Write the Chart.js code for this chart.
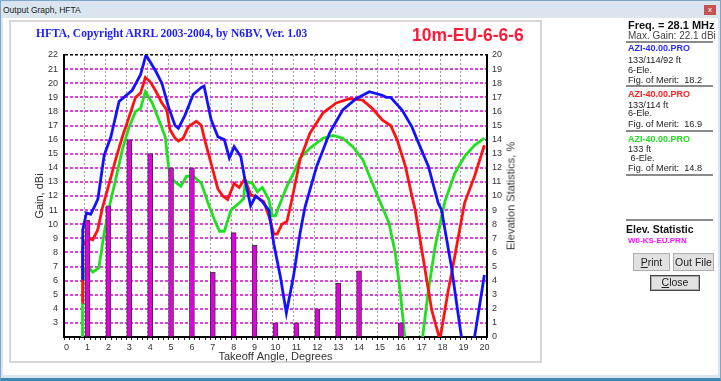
<!DOCTYPE html>
<html>
<head>
<meta charset="utf-8">
<script src="https://cdn.jsdelivr.net/npm/chart.js@4.4.1/dist/chart.umd.min.js"></script>
<style>
  body { margin: 0; width: 721px; height: 381px; overflow: hidden; position: relative; background: #fff;
         font-family: "Liberation Sans", Arial, sans-serif; }
  .abs { position: absolute; white-space: nowrap; line-height: 1; }
  #frame { position: absolute; left: 0; top: 0; width: 719px; height: 377px; background: #dae5ef;
           border: 1px solid #7fa6c6; border-bottom: 3px solid #3d8ab0; }
  #client { position: absolute; left: 3px; top: 18px; width: 715px; height: 357px; background: #fff; }
  #panel { position: absolute; left: 9px; top: 20px; width: 529px; height: 339px; border: 2px solid #d6d6d6; background: #fff; }
  #myChart { position: absolute; left: 0; top: 0; }
  .sep { position: absolute; left: 626px; width: 87px; height: 0; border-top: 2px solid #8a8a8a; }
  .btn { position: absolute; background: #e1e1e1; border: 1px solid #adadad; font-size: 10.5px; color: #222;
         text-align: center; box-sizing: border-box; }
  .info { font-size: 9.2px; color: #222; left: 628px; }
  .azi { font-size: 9px; font-weight: bold; left: 628px; }
</style>
</head>
<body>
<div id="frame"></div>
<div class="abs" style="left:3px;top:6px;font-size:8.5px;color:#222">Output Graph, HFTA</div>
<div class="abs" style="left:704px;top:5px;width:12px;height:10px;background:#c75050;color:#fff;font-size:8px;text-align:center;line-height:10px">x</div>
<div id="client"></div>
<div id="panel"></div>

<canvas id="myChart" width="721" height="381"></canvas>

<div class="abs" style="left:36px;top:28px;font-family:'Liberation Serif',serif;font-weight:bold;font-size:11.5px;color:#1c1cff">HFTA, Copyright ARRL 2003-2004, by N6BV, Ver. 1.03</div>
<div class="abs" style="left:412px;top:27px;font-weight:bold;font-size:17.5px;color:#ff1a3a">10m-EU-6-6-6</div>
<div class="abs" style="left:511px;top:196px;font-size:11px;color:#333;transform:translate(-50%,-50%) rotate(-90deg)">Elevation Statistics, %</div>

<div class="abs" style="left:628px;top:19.5px;font-size:11px;font-weight:bold;color:#111">Freq. = 28.1 MHz</div>
<div class="abs" style="left:628px;top:31px;font-size:10px;color:#444">Max. Gain: 22.1 dBi</div>
<div class="sep" style="top:41px"></div>
<div class="abs azi" style="top:44px;color:#2a2aff">AZI-40.00.PRO</div>
<div class="abs info" style="top:55.5px">133/114/92 ft</div>
<div class="abs info" style="top:66px">6-Ele.</div>
<div class="abs info" style="top:75.5px">Fig. of Merit:&nbsp; 18.2</div>
<div class="sep" style="top:85px"></div>
<div class="abs azi" style="top:89.5px;color:#ff2020">AZI-40.00.PRO</div>
<div class="abs info" style="top:100.5px">133/114 ft</div>
<div class="abs info" style="top:108.5px">6-Ele.</div>
<div class="abs info" style="top:119.5px">Fig. of Merit:&nbsp; 16.9</div>
<div class="sep" style="top:130px"></div>
<div class="abs azi" style="top:134.5px;color:#22dd22">AZI-40.00.PRO</div>
<div class="abs info" style="top:144.5px">133 ft</div>
<div class="abs info" style="top:153.5px">&nbsp;6-Ele.</div>
<div class="abs info" style="top:163.5px">Fig. of Merit:&nbsp; 14.8</div>
<div class="sep" style="top:174px"></div>
<div class="sep" style="top:219px"></div>
<div class="abs" style="left:626px;top:224px;font-size:10.5px;font-weight:bold;color:#111">Elev. Statistic</div>
<div class="abs" style="left:628px;top:237px;font-size:8px;font-weight:bold;color:#ff10ff">W0-KS-EU.PRN</div>
<div class="btn" style="left:633px;top:253px;width:37px;height:18px;line-height:16px"><u>P</u>rint</div>
<div class="btn" style="left:673px;top:253px;width:41px;height:18px;line-height:16px">Out File</div>
<div class="btn" style="left:650px;top:275px;width:50px;height:16px;line-height:13px;border:1px solid #444;box-shadow:inset 0 0 0 1px #aaa"><u>C</u>lose</div>

<script>
// takeoff angles (deg) and gain (dBi)
const blueAngles = [0.75, 0.77, 0.95, 1.15, 1.35, 1.5, 1.8, 2.12, 2.51, 3.14, 3.54, 3.8, 4.25, 4.56, 4.88, 5.19, 5.35, 5.66, 6.06, 6.45, 6.58, 6.92, 7.24, 7.55, 7.79, 8.02, 8.34, 8.53, 8.81, 9.05, 9.37, 9.68, 9.92, 10.23, 10.52, 10.86, 11.18, 11.41, 11.97, 12.6, 13.22, 13.86, 14.49, 15.11, 15.3, 15.51, 16.06, 16.53, 16.85, 17.32, 17.79, 17.95, 18.42, 18.9, 19.2, 19.53, 20];
const blueGain = [6.1, 9.6, 10.8, 10.7, 11.3, 11.8, 14.9, 16.2, 18.7, 19.5, 20.6, 22.0, 20.9, 20.0, 18.3, 17.0, 16.8, 17.7, 19.2, 19.7, 19.8, 17.4, 16.2, 16.0, 14.7, 15.5, 14.8, 13.2, 11.3, 12.0, 11.6, 11.0, 8.6, 6.3, 3.7, 6.3, 9.4, 11.2, 14.1, 16.5, 18.1, 18.9, 19.4, 19.15, 19.0, 19.0, 18.1, 16.9, 15.75, 14.1, 11.5, 11.0, 7.0, 2.0, null, 2.0, 6.4];

const redAngles = [0.75, 0.77, 1.02, 1.25, 1.49, 1.72, 2.04, 2.35, 2.67, 2.99, 3.3, 3.54, 3.77, 4.0, 4.25, 4.56, 4.8, 4.95, 5.19, 5.35, 5.58, 5.82, 6.21, 6.45, 6.61, 6.92, 7.24, 7.48, 7.71, 8.02, 8.26, 8.53, 8.81, 9.13, 9.44, 9.7, 9.92, 10.08, 10.31, 10.55, 10.78, 11.18, 11.65, 12.28, 12.91, 13.54, 14.17, 14.64, 15.11, 15.51, 15.82, 16.22, 16.53, 16.69, 17.0, 17.48, 17.87, 18.27, 18.58, 19.05, 19.53, 20];
const redGain = [4.45, 8.45, 9.0, 8.9, 9.6, 11.2, 12.9, 14.6, 16.2, 17.6, 19.0, 19.3, 20.4, 20.1, 19.5, 18.6, 18.1, 16.7, 16.1, 15.9, 16.1, 16.9, 17.3, 17.0, 16.0, 14.3, 12.5, 12.0, 11.75, 12.9, 12.6, 13.2, 12.1, 11.9, 11.6, 10.5, 9.3, 9.3, 10.0, 10.2, 11.7, 14.6, 16.45, 17.9, 18.6, 18.9, 18.8, 18.2, 17.4, 17.0, 16.0, 14.1, 12.0, 11.0, 8.2, 3.9, 1.8, 5.3, 7.7, 11.5, 13.4, 15.6];

const greenAngles = [0.75, 0.76, 0.8, 1.02, 1.25, 1.54, 1.8, 2.07, 2.35, 2.67, 2.99, 3.3, 3.54, 3.77, 4.1, 4.41, 4.72, 4.88, 4.95, 5.19, 5.47, 5.74, 6.06, 6.45, 6.77, 7.08, 7.32, 7.55, 7.87, 8.26, 8.47, 8.53, 8.66, 8.89, 9.13, 9.37, 9.68, 9.84, 10.0, 10.23, 10.55, 10.86, 11.18, 11.65, 12.28, 12.75, 13.22, 13.7, 14.17, 14.64, 15.03, 15.43, 15.74, 15.98, 16.19, 16.6, 17.04, 17.32, 17.64, 18.11, 18.58, 19.05, 19.53, 20];
const greenGain = [2.0, 4.5, 6.7, 7.0, 6.6, 6.9, 9.4, 11.4, 13.2, 15.3, 16.9, 18.0, 18.2, 19.4, 18.6, 17.4, 16.2, 14.1, 13.4, 13.0, 12.7, 13.4, 13.4, 12.9, 11.5, 10.3, 9.5, 9.5, 11.0, 11.5, 11.8, 12.7, 13.0, 12.9, 12.3, 12.6, 11.75, 10.6, 10.6, 11.5, 12.7, 13.6, 14.7, 15.4, 16.1, 16.3, 16.1, 15.5, 14.6, 12.9, 11.5, 10.1, 7.9, 5.1, 2.0, null, 2.0, 5.3, 8.4, 11.6, 13.6, 14.8, 15.6, 16.1];

// elevation statistics (% of openings) per degree
const statAngles = [1, 2, 3, 4, 5, 6, 7, 8, 9, 10, 11, 12, 13, 14, 15, 16, 17, 18, 19, 20];
const statPercent = [8.3, 9.3, 14, 13, 12, 12, 4.6, 7.4, 6.5, 1, 1, 2, 3.8, 4.7, 0, 1, 0, 0, 0, 0];

const pts = (xs, ys) => xs.map((x, i) => ({ x: x, y: ys[i] }));
const tickVal = c => (c.tick ? c.tick.value : NaN);

Chart.defaults.font.family = '"Liberation Sans", Arial, sans-serif';
Chart.defaults.font.size = 9;

const ctx = document.getElementById('myChart');

new Chart(ctx, {
  type: 'line',
  data: {
    datasets: [{
      type: 'bar',
      label: 'Elevation Statistics',
      data: pts(statAngles, statPercent),
      yAxisID: 'y2',
      backgroundColor: '#e200e2',
      borderColor: '#3a3a3a',
      borderWidth: 1,
      borderSkipped: 'start',
      barThickness: 5,
      order: 0
    }, {
      label: 'AZI-40.00.PRO 133/114/92 ft',
      data: pts(blueAngles, blueGain),
      borderColor: '#1212ff',
      borderWidth: 2.8,
      pointRadius: 0,
      tension: 0,
      order: 1
    }, {
      label: 'AZI-40.00.PRO 133/114 ft',
      data: pts(redAngles, redGain),
      borderColor: '#ff1212',
      borderWidth: 2.8,
      pointRadius: 0,
      tension: 0,
      order: 2
    }, {
      label: 'AZI-40.00.PRO 133 ft',
      data: pts(greenAngles, greenGain),
      borderColor: '#1ee01e',
      borderWidth: 2.8,
      pointRadius: 0,
      tension: 0,
      order: 3
    }]
  },
  options: {
    responsive: false,
    animation: false,
    layout: { padding: { top: 55, left: 29, right: 200, bottom: 13 } },
    plugins: { legend: { display: false }, tooltip: { enabled: false } },
    scales: {
      x: {
        type: 'linear',
        min: 0,
        max: 20,
        afterFit: s => { s.height = 31; },
        border: { color: '#000', width: 2, dash: [2, 2] },
        grid: {
          color: c => {
            const v = tickVal(c);
            return (Number.isInteger(v) && v > 0 && v < 20) ? '#9c9c9c' : 'rgba(0,0,0,0)';
          },
          lineWidth: 1,
          tickLength: 3,
          tickColor: '#222'
        },
        ticks: {
          stepSize: 0.25,
          autoSkip: false,
          maxRotation: 0,
          padding: 2,
          color: '#333',
          callback: v => Number.isInteger(v) ? v : ''
        },
        title: { display: true, text: 'Takeoff Angle, Degrees', color: '#333', font: { size: 11 } }
      },
      y: {
        position: 'left',
        min: 2,
        max: 22,
        afterFit: s => { s.width = 35; },
        border: { color: '#000', width: 2, dash: [3, 2] },
        grid: {
          color: c => {
            const v = tickVal(c);
            return v === 22 ? '#000' : (v === 2 ? 'rgba(0,0,0,0)' : '#e040e0');
          },
          lineWidth: c => tickVal(c) === 22 ? 1.5 : 2,
          drawTicks: false
        },
        ticks: {
          stepSize: 1,
          padding: 6,
          color: '#333',
          callback: v => v === 2 ? '' : v
        },
        title: { display: true, text: 'Gain, dBi', color: '#333', font: { size: 11 } }
      },
      y2: {
        position: 'right',
        min: 0,
        max: 20,
        afterFit: s => { s.width = 34; },
        border: { color: '#000', width: 2 },
        grid: { drawOnChartArea: false, drawTicks: false },
        ticks: { stepSize: 1, padding: 5, color: '#333' }
      }
    }
  }
});
</script>
</body>
</html>
